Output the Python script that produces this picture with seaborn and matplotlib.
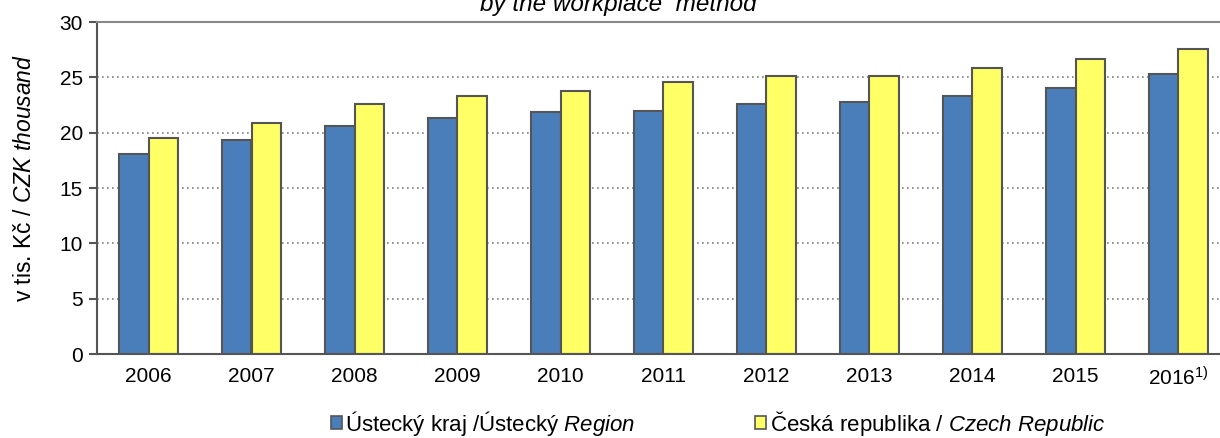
import pandas as pd
import seaborn as sns
import matplotlib.pyplot as plt
from matplotlib.patches import Patch

years = ['2006', '2007', '2008', '2009', '2010', '2011', '2012', '2013', '2014', '2015', '2016$^{1)}$']
ustecky = [18.1, 19.3, 20.6, 21.3, 21.9, 22.0, 22.6, 22.8, 23.3, 24.0, 25.3]
cr = [19.5, 20.9, 22.6, 23.3, 23.8, 24.6, 25.1, 25.1, 25.8, 26.7, 27.6]
series = ['Ústecký kraj /Ústecký $\\it{Region}$', 'Česká republika / $\\it{Czech\\ Republic}$']
colors = ['#4A7EBB', '#FFFF66']

df = pd.DataFrame({
    'year': years * 2,
    'value': ustecky + cr,
    'series': [series[0]] * len(years) + [series[1]] * len(years),
})

sns.set_style("white")
plt.rcParams['font.family'] = ['Liberation Sans', 'DejaVu Sans']
plt.rcParams['mathtext.fontset'] = 'custom'
plt.rcParams['mathtext.rm'] = 'Liberation Sans'
plt.rcParams['mathtext.it'] = 'Liberation Sans:italic'
plt.rcParams['text.color'] = 'black'

fig = plt.figure(figsize=(12.2, 4.38), dpi=100)
ax = fig.add_axes([97/1220, 84/438, 1133/1220, 332/438])

sns.barplot(data=df, x='year', y='value', hue='series', palette=colors, width=0.57,
            edgecolor='#555555', linewidth=1.5, saturation=1, ax=ax, legend=False)

ax.set_ylim(0, 30)
ax.set_xlim(-0.5, 10.5)
ax.set_yticks(range(0, 31, 5))
ax.yaxis.grid(True, linestyle=(0, (1, 2)), color='#808080', linewidth=1.2)
ax.set_axisbelow(True)
ax.set_xticks([i + 0.5 for i in range(-1, 11)], minor=True)
ax.tick_params(axis='x', which='major', length=0, labelsize=15, pad=9, labelcolor='black')
ax.tick_params(axis='x', which='minor', length=6, width=1.5, color='#555555', direction='out')
ax.tick_params(axis='y', length=6, width=1.5, color='#555555', direction='out', labelsize=15,
               left=True, pad=4, labelcolor='black')
ax.set_xlabel('')
ax.set_ylabel('v tis. Kč / $\\it{CZK\\ thousand}$', fontsize=16.5, color='black')
ax.yaxis.set_label_coords(-0.054, 0.53)
for s in ['left', 'bottom']:
    ax.spines[s].set_color('#555555')
    ax.spines[s].set_linewidth(1.5)
ax.spines['top'].set_color('#888888')
ax.spines['top'].set_linewidth(1.5)
ax.spines['right'].set_visible(False)

fig.text(0.507, 1 - 11/438, 'by the workplace  method', ha='center', va='baseline',
         fontsize=17.5, style='italic')

handles = [Patch(facecolor=c, edgecolor='#555555', linewidth=1.2) for c in colors]
fig.legend(handles, series, loc='center', bbox_to_anchor=(718/1220, 1 - 423/438), ncol=2,
           frameon=False, fontsize=16, columnspacing=5.4, handlelength=0.5, handleheight=0.5,
           handletextpad=0.15, borderpad=0, borderaxespad=0)

fig.savefig('out.png', dpi=100)
